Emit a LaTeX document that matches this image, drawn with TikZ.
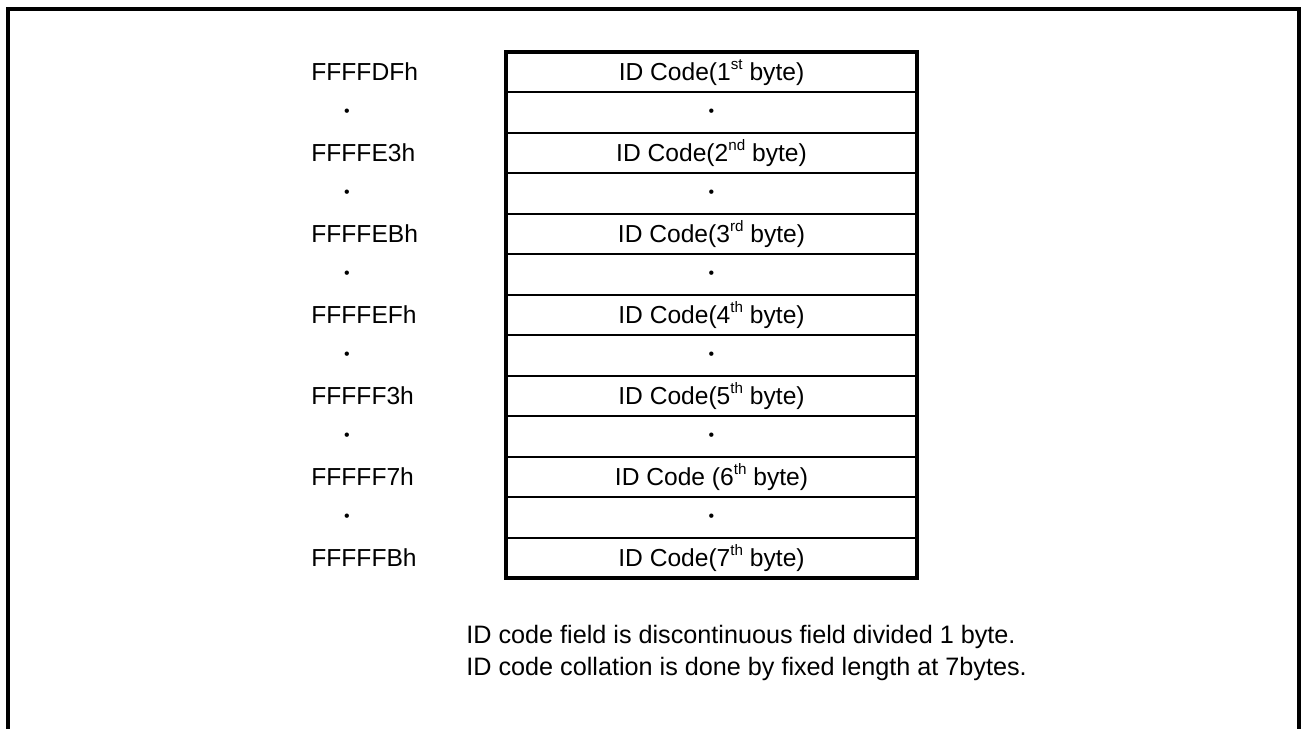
\documentclass[tikz,border=0pt]{standalone}
\usepackage{fontspec}
\setmainfont{Liberation Sans}
\newcommand{\supx}[1]{\raisebox{5.2pt}{\fontsize{7.6pt}{8pt}\selectfont #1}}
\begin{document}
\begin{tikzpicture}[x=0.5pt,y=-0.5pt,
  txt/.style={font=\fontsize{12.3pt}{14pt}\selectfont, inner sep=0pt},
  note/.style={font=\fontsize{12.6pt}{14pt}\selectfont, inner sep=0pt, anchor=west},
  dotmark/.style={font=\fontsize{8pt}{9pt}\selectfont, inner sep=0pt},
  frameline/.style={line width=2pt},
  tabborder/.style={line width=2pt},
  rowline/.style={line width=1pt}]
\useasboundingbox (0,0) rectangle (1303,729);
% outer frame (open at bottom)
\draw[frameline] (8,729) -- (8,9) -- (1299,9) -- (1299,729);
% table
\def\rh{40.5}
\foreach \k in {1,...,12}{
  \draw[rowline] (506,{51.75+\k*\rh}) -- (917,{51.75+\k*\rh});
}
\draw[tabborder] (506,51.75) rectangle (917,578.25);
% rows
\foreach \lab/\txt/\i in {FFFFDFh/{ID Code(1\supx{st} byte)}/0,
                          FFFFE3h/{ID Code(2\supx{nd} byte)}/2,
                          FFFFEBh/{ID Code(3\supx{rd} byte)}/4,
                          FFFFEFh/{ID Code(4\supx{th} byte)}/6,
                          FFFFF3h/{ID Code(5\supx{th} byte)}/8,
                          FFFFF7h/{ID Code (6\supx{th} byte)}/10,
                          FFFFFBh/{ID Code(7\supx{th} byte)}/12}{
  \node[txt, anchor=base west] (addr\i) at (311,{80+\i*\rh}) {\lab};
  \node[txt, anchor=base] (cell\i) at (711.5,{80+\i*\rh}) {\txt};
}
\foreach \i in {1,3,5,7,9,11}{
  \node[dotmark] (ldot\i) at (347,{72+\i*\rh}) {•};
  \node[dotmark] (cdot\i) at (711.5,{72+\i*\rh}) {•};
}
\node[note] (note1) at (466,637) {ID code field is discontinuous field divided 1 byte.};
\node[note] (note2) at (466,669) {ID code collation is done by fixed length at 7bytes.};
\end{tikzpicture}
\end{document}
